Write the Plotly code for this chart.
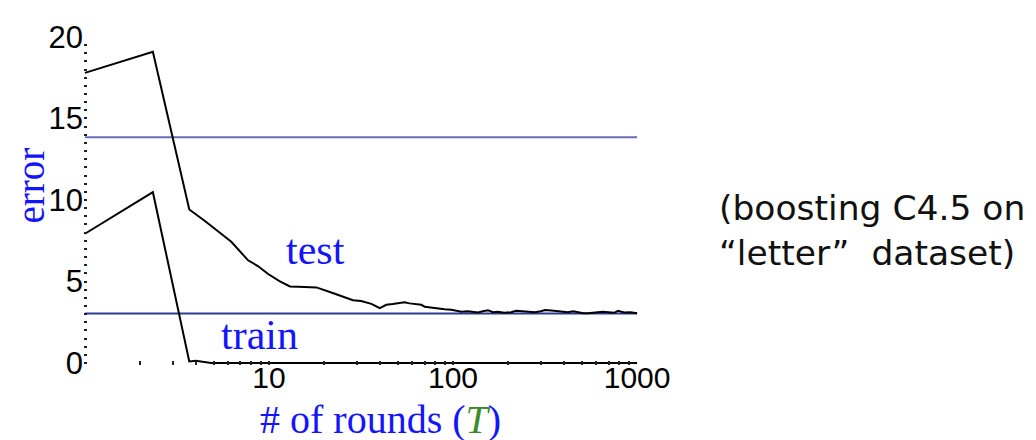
import plotly.graph_objects as go

# ---- data ----
test_T = [1, 2.34, 3.69, 4.47, 6.24, 7.7, 8.7, 9.9, 11.4, 12.2, 13.0, 14.4, 17.7, 18.1,
          21.8, 23.7, 26.0, 28.6, 31.7, 34.0, 36.0, 40.0, 43.4, 47.0, 52.4, 54.6, 58.0,
          61.9, 67.3, 70.2, 76.0, 82.9, 90.0, 97.9, 104, 111, 120, 128, 136.7, 145, 155,
          165, 175, 190, 207, 220, 234, 260, 278, 300, 316, 342, 380, 420, 450, 478, 510,
          541, 600, 650, 700, 750, 788, 850, 920, 1000]
test_err = [17.8, 19.09, 9.42, 8.73, 7.44, 6.3, 5.95, 5.46, 5.03, 4.86, 4.70, 4.68, 4.62, 4.64,
            4.33, 4.17, 4.0, 3.85, 3.80, 3.70, 3.63, 3.37, 3.57, 3.62, 3.71, 3.73, 3.66,
            3.63, 3.57, 3.45, 3.40, 3.32, 3.30, 3.27, 3.20, 3.14, 3.18, 3.12, 3.10, 3.18, 3.23,
            3.12, 3.15, 3.08, 3.12, 3.20, 3.17, 3.13, 3.11, 3.18, 3.25, 3.22, 3.15, 3.12, 3.18, 3.10, 3.06,
            3.05, 3.10, 3.14, 3.12, 3.08, 3.20, 3.10, 3.12, 3.05]

train_T = [1, 2.34, 3.69, 4.0, 4.85, 10, 100, 1000]
train_err = [7.93, 10.48, 0.1, 0.14, 0.0, 0.0, 0.0, 0.0]

ref_levels = [13.85, 3.04]
ref_colors = ["#6b6bb5", "#2d3a94"]

x_tickvals = [2, 3, 4, 5, 6, 7, 8, 9, 10, 20, 30, 40, 50, 60, 70, 80, 90, 100,
              200, 300, 400, 500, 600, 700, 800, 900, 1000]
x_ticktext = ["10" if v == 10 else "100" if v == 100 else "1000" if v == 1000 else "" for v in x_tickvals]
y_tickvals = [0, 5, 10, 15, 20]

note_lines = ["(boosting C4.5 on", "“letter”  dataset)"]

W, H = 1036, 440
L, R, T, B = 76, 406, 18, 83

fig = go.Figure()
for lvl, col in zip(ref_levels, ref_colors):
    fig.add_trace(go.Scatter(x=[1, 1000], y=[lvl, lvl], mode="lines",
                             line=dict(color=col, width=2), hoverinfo="skip", showlegend=False))
fig.add_trace(go.Scatter(x=test_T, y=test_err, mode="lines",
                         line=dict(color="black", width=2), showlegend=False))
fig.add_trace(go.Scatter(x=train_T, y=train_err, mode="lines",
                         line=dict(color="black", width=2), showlegend=False))

pw = W - L - R
ph = H - T - B
def px(x):
    return (x - L) / pw
def py(y):
    return (H - B - y) / ph

serif = "Liberation Serif, Times New Roman, serif"
blue = "#1414ff"
common = dict(xref="paper", yref="paper", showarrow=False, xanchor="center", yanchor="middle")
ann = [
    dict(text="test", x=px(307), y=py(238), font=dict(family=serif, size=42, color=blue), **common),
    dict(text="train", x=px(251), y=py(326), font=dict(family=serif, size=42, color=blue), **common),
    dict(text="error", x=px(22), y=py(172), textangle=-90,
         font=dict(family=serif, size=39, color=blue), **common),
    dict(text="# of rounds (<i><span style='color:#3c8c2c'>T</span></i>)",
         x=px(372), y=py(413), font=dict(family=serif, size=40, color=blue), **common),
    dict(text="<br>".join(note_lines), x=px(709), y=py(218), xref="paper", yref="paper",
         xanchor="left", yanchor="middle", align="left", showarrow=False,
         font=dict(family="DejaVu Sans, sans-serif", size=34.5, color="#111111")),
]

fig.update_layout(
    width=W, height=H, margin=dict(l=L, r=R, t=T, b=B),
    paper_bgcolor="white", plot_bgcolor="white",
    annotations=ann,
    xaxis=dict(type="log", range=[-0.005, 3.005], showgrid=False, zeroline=False,
               showline=False, ticks="inside", ticklen=4, tickwidth=1.5, tickcolor="#222",
               tickvals=x_tickvals, ticktext=x_ticktext, ticklabelstandoff=-8,
               tickfont=dict(family="Liberation Sans, Arial, sans-serif", size=30, color="black")),
    yaxis=dict(range=[-0.12, 20.06], showgrid=False, zeroline=False, showline=False,
               ticks="inside", ticklen=3, tickwidth=2, tickcolor="#222",
               tickvals=y_tickvals,
               minor=dict(dtick=0.5, ticks="inside", ticklen=3, tickwidth=2, tickcolor="#222"),
               tickfont=dict(family="Liberation Sans, Arial, sans-serif", size=31, color="black")),
)

fig.write_html("out.html")
